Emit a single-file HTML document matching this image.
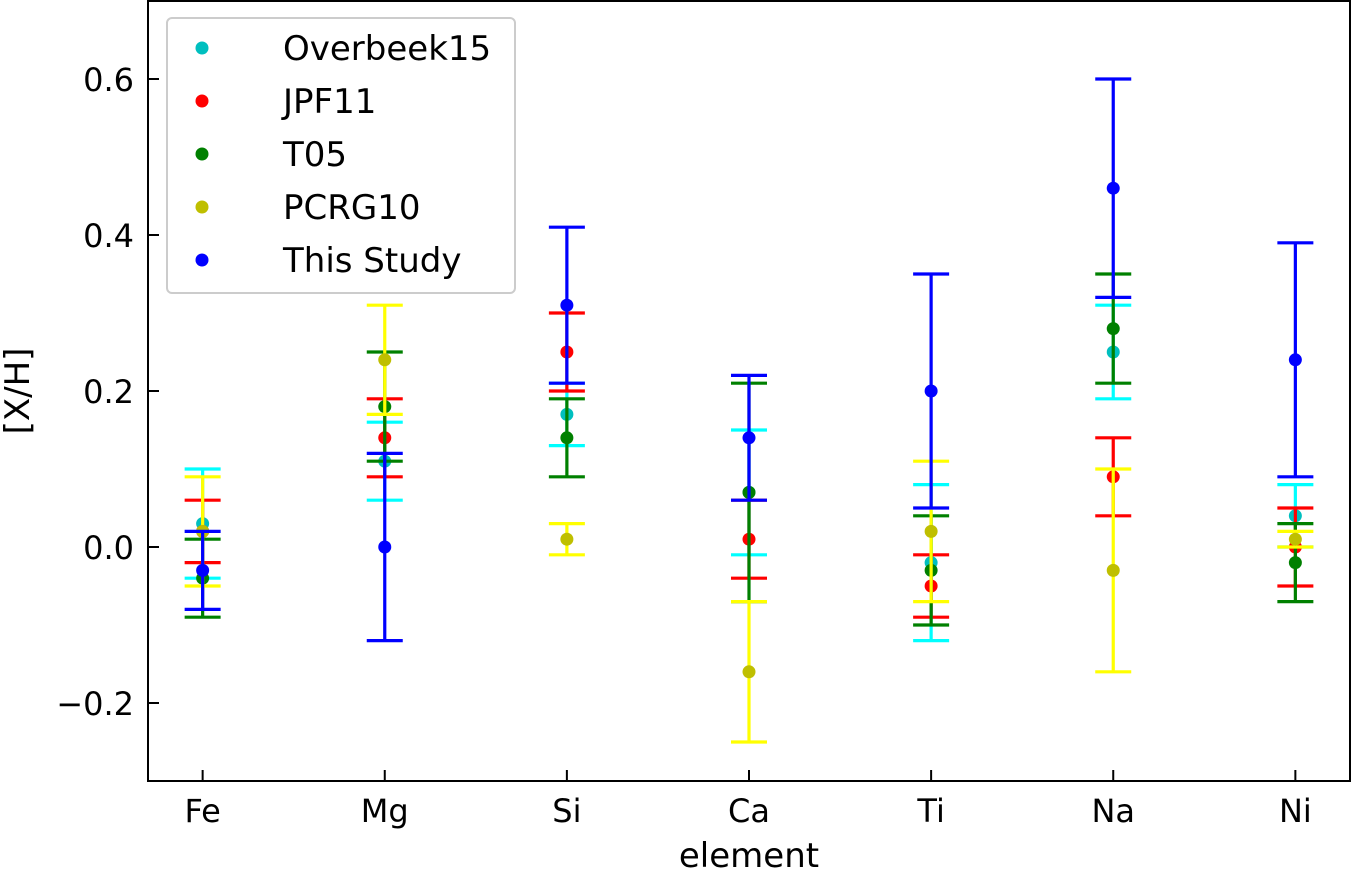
<!DOCTYPE html>
<html><head><meta charset="utf-8"><style>
body{margin:0;background:#fff;}
svg{display:block;font-family:"DejaVu Sans","Liberation Sans",sans-serif;}
</style></head><body>
<svg id="chart" width="1352" height="871"></svg>
<script>
const categories=["Fe","Mg","Si","Ca","Ti","Na","Ni"];
const seriesNames=["Overbeek15","JPF11","T05","PCRG10","This Study"];
const overbeekVals=[0.03,0.11,0.17,0.07,-0.02,0.25,0.04];
const overbeekErr=[0.07,0.05,0.04,0.08,0.10,0.06,0.04];
const jpfVals=[0.02,0.14,0.25,0.01,-0.05,0.09,0.00];
const jpfErr=[0.04,0.05,0.05,0.05,0.04,0.05,0.05];
const t05Vals=[-0.04,0.18,0.14,0.07,-0.03,0.28,-0.02];
const t05Err=[0.05,0.07,0.05,0.14,0.07,0.07,0.05];
const pcrgVals=[0.02,0.24,0.01,-0.16,0.02,-0.03,0.01];
const pcrgErr=[0.07,0.07,0.02,0.09,0.09,0.13,0.01];
const studyVals=[-0.03,0.00,0.31,0.14,0.20,0.46,0.24];
const studyErr=[0.05,0.12,0.10,0.08,0.15,0.14,0.15];
const yTicks=[-0.2,0.0,0.2,0.4,0.6];
const yTickLabels=["\u22120.2","0.0","0.2","0.4","0.6"];

const L=148,R=1350,T=1,B=781,xMin=-0.3,xMax=6.3,yMin=-0.3,yMax=0.7;
const X=i=>L+(i-xMin)/(xMax-xMin)*(R-L);
const Y=v=>B-(v-yMin)/(yMax-yMin)*(B-T);
const svg=document.getElementById('chart');
const NS="http://www.w3.org/2000/svg";
function mk(tag,attrs,parent){const e=document.createElementNS(NS,tag);for(const k in attrs)e.setAttribute(k,attrs[k]);(parent||svg).appendChild(e);return e;}

const series=[
 {vals:overbeekVals,err:overbeekErr,bar:"#00ffff",dot:"#00bfbf",name:"overbeek15"},
 {vals:jpfVals,err:jpfErr,bar:"#ff0000",dot:"#ff0000",name:"jpf11"},
 {vals:t05Vals,err:t05Err,bar:"#008000",dot:"#008000",name:"t05"},
 {vals:pcrgVals,err:pcrgErr,bar:"#ffff00",dot:"#bfbf00",name:"pcrg10"},
 {vals:studyVals,err:studyErr,bar:"#0000ff",dot:"#0000ff",name:"this-study"}];
series.forEach(s=>{
 const g=mk('g',{});
 
 
 s.vals.forEach((v,i)=>{
  const x=X(i),y1=Y(v-s.err[i]),y2=Y(v+s.err[i]);
  const eb=mk('path',{d:`M${x},${y1}V${y2}M${x-18},${y1}H${x+18}M${x-18},${y2}H${x+18}`,stroke:s.bar,'stroke-width':3.2,fill:'none'},g);
  
  
  const c=mk('circle',{cx:x,cy:Y(v),r:6.5,fill:s.dot},g);
  
  
 });
});
const fr=mk('rect',{x:L,y:T,width:R-L,height:B-T,fill:'none',stroke:'#000','stroke-width':2});


categories.forEach((c,i)=>{
 mk('line',{x1:X(i),x2:X(i),y1:B,y2:B-11,stroke:'#000','stroke-width':2});
 const t=mk('text',{x:X(i),y:B+41,'text-anchor':'middle','font-size':32});t.textContent=c;
 
 
});
yTicks.forEach((v,i)=>{
 mk('line',{x1:L,x2:L+11,y1:Y(v),y2:Y(v),stroke:'#000','stroke-width':2});
 const t=mk('text',{x:L-14,y:Y(v)+12,'text-anchor':'end','font-size':32});t.textContent=yTickLabels[i];
 
 
});
const xt=mk('text',{x:749,y:867,'text-anchor':'middle','font-size':34});xt.textContent="element";


const yt=mk('text',{x:0,y:0,'text-anchor':'middle','font-size':34,transform:`translate(29,${(T+B)/2}) rotate(-90)`});yt.textContent="[X/H]";


const lg=mk('g',{});


mk('rect',{x:167,y:18,width:348,height:275,rx:5,fill:'#fff','fill-opacity':0.8,stroke:'#ccc','stroke-width':2},lg);
series.forEach((s,i)=>{
 const y=48+i*53;
 mk('circle',{cx:202,cy:y,r:6.5,fill:s.dot},lg);
 const t=mk('text',{x:283,y:y+12,'font-size':34},lg);t.textContent=seriesNames[i];
 
 
});
</script>
</body></html>
